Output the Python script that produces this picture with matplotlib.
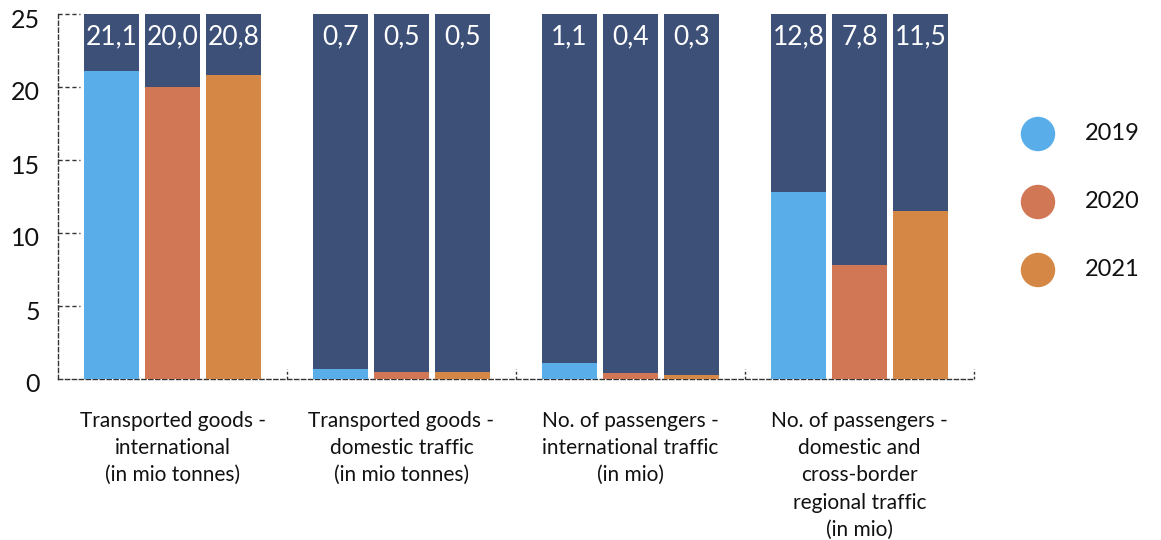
import matplotlib
matplotlib.use("Agg")
import matplotlib.pyplot as plt
import matplotlib.transforms as mtransforms
from matplotlib.patches import Circle
import numpy as np

# categories and yearly values
categories = [
    "Transported goods -\ninternational\n(in mio tonnes)",
    "Transported goods -\ndomestic traffic\n(in mio tonnes)",
    "No. of passengers -\ninternational traffic\n(in mio)",
    "No. of passengers -\ndomestic and\ncross-border\nregional traffic\n(in mio)",
]
years = ["2019", "2020", "2021"]
v2019 = [21.1, 0.7, 1.1, 12.8]
v2020 = [20.0, 0.5, 0.4, 7.8]
v2021 = [20.8, 0.5, 0.3, 11.5]
ymax = 25

colors = ["#59aeea", "#d17755", "#d58745"]
navy = "#3d5078"
ink = "#333333"

plt.rcParams["font.family"] = ["Lato", "DejaVu Sans"]

fig = plt.figure(figsize=(11.61, 5.40), dpi=100)
ax = fig.add_axes([58 / 1161, 161 / 540, 916 / 1161, 365 / 540])

x = np.arange(len(categories))
width = 0.24
step = 0.266

for i, (vals, col) in enumerate(zip([v2019, v2020, v2021], colors)):
    pos = x + (i - 1) * step
    ax.bar(pos, [ymax] * len(vals), width=width, color=navy, zorder=2)
    ax.bar(pos, vals, width=width, color=col, zorder=3)
    for p, v in zip(pos, vals):
        ax.text(p, 22.9, f"{v:.1f}".replace(".", ","), ha="center", va="baseline",
                color="white", fontsize=19, zorder=4)

ax.set_xlim(-0.5, 3.5)
ax.set_ylim(0, ymax)

for side in ["top", "right"]:
    ax.spines[side].set_visible(False)
for side in ["left", "bottom"]:
    ax.spines[side].set_linestyle((0, (3, 2)))
    ax.spines[side].set_color(ink)
    ax.spines[side].set_linewidth(1)

# dashed y ticks drawn inside the axes
yt = np.arange(0, 26, 5)
ax.set_yticks(yt)
ax.set_yticklabels([str(t) for t in yt], fontsize=18, color="#111111")
ax.tick_params(axis="y", length=0, pad=13)
shift = mtransforms.ScaledTranslation(0, -4 / 100, fig.dpi_scale_trans)
for lab in ax.get_yticklabels():
    lab.set_transform(lab.get_transform() + shift)
ax.hlines(yt[1:], 0, 0.024, transform=ax.get_yaxis_transform(),
          colors=ink, linestyles=(0, (3, 2)), linewidth=1, zorder=1, clip_on=False)

# category names under the axis, small separators between groups
ax.set_xticks(x)
ax.set_xticklabels(categories, fontsize=15, linespacing=1.45, va="top", color="#111111")
ax.tick_params(axis="x", length=0, pad=23)
ax.vlines(x + 0.5, 0, 0.7, colors=ink, linestyles=(0, (2, 1.5)), linewidth=1,
          zorder=1, clip_on=False)

# legend as dots with labels
for i, (yr, col) in enumerate(zip(years, colors)):
    ypix = 540 - (134 + 68 * i)
    fig.patches.append(Circle((1038, ypix), 16.5, transform=None, color=col))
    fig.text(1085 / 1161, ypix / 540, yr, fontsize=17, va="center", ha="left",
             color="#111111")

fig.savefig("out.png", dpi=100)
